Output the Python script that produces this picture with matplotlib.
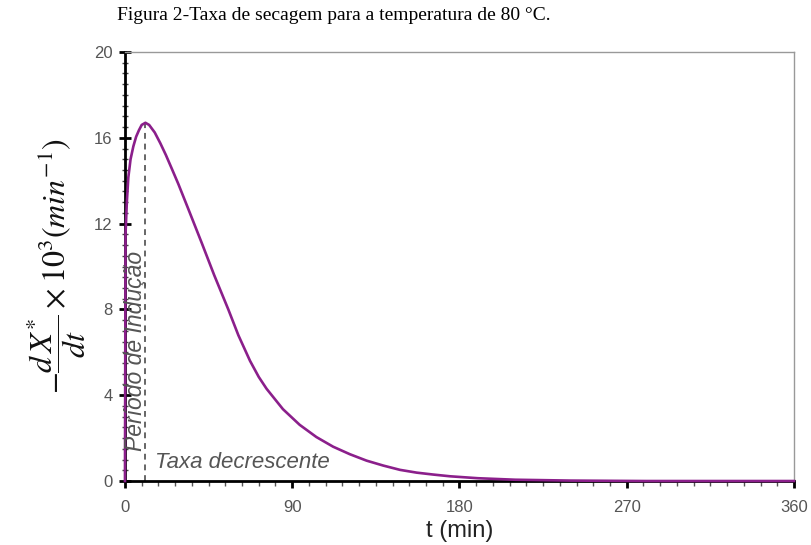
import matplotlib
matplotlib.use("Agg")
import matplotlib.pyplot as plt
from matplotlib.ticker import MultipleLocator
import numpy as np

# drying rate curve at 80 C
t_min = [0, 0.3, 1, 1.8, 3, 4.5, 6, 7.5, 9, 11, 13, 16, 19, 22, 25, 28.7, 34, 41.3, 48,
         55.6, 61, 67.3, 72, 76.2, 85, 94, 103, 112, 121, 130, 139, 148, 157, 166, 175,
         190, 210, 240, 280, 360]
rate = [0, 11.5, 13.0, 14.15, 15.0, 15.6, 16.05, 16.35, 16.6, 16.7, 16.6, 16.25, 15.75,
        15.2, 14.6, 13.85, 12.7, 11.1, 9.6, 8.0, 6.8, 5.6, 4.85, 4.3, 3.35, 2.62, 2.05, 1.6,
        1.25, 0.95, 0.72, 0.52, 0.39, 0.3, 0.22, 0.13, 0.06, 0.02, 0, 0]
t_peak = 11
rate_peak = 16.7
x_ticks = [0, 90, 180, 270, 360]
y_ticks = [0, 4, 8, 12, 16, 20]

plt.rcParams['mathtext.fontset'] = 'stix'
plt.rcParams['font.family'] = ['Liberation Sans', 'DejaVu Sans']

fig = plt.figure(figsize=(8.11, 5.45), dpi=100)
ax = fig.add_axes([0.1541, 0.1174, 0.979 - 0.1541, 0.9046 - 0.1174])

ax.plot(t_min, rate, color='#8B1F8B', lw=1.9, zorder=3, clip_on=False)
ax.plot([t_peak, t_peak], [0, rate_peak], color='#666666', lw=1.4, ls=(0, (3, 2.5)), zorder=2)

ax.set_xlim(0, 360)
ax.set_ylim(0, 20)
ax.set_xticks(x_ticks)
ax.set_yticks(y_ticks)
ax.xaxis.set_minor_locator(MultipleLocator(9))
ax.yaxis.set_minor_locator(MultipleLocator(0.5))

for side in ['left', 'bottom']:
    ax.spines[side].set_linewidth(2.0)
    ax.spines[side].set_color('black')
for side in ['top', 'right']:
    ax.spines[side].set_linewidth(1.0)
    ax.spines[side].set_color('#999999')

ax.tick_params(axis='x', which='major', direction='out', length=5, width=2, color='black',
               labelsize=12, labelcolor='#555555', pad=9)
ax.tick_params(axis='x', which='minor', direction='out', length=3.5, width=1, color='#555555')
ax.tick_params(axis='y', which='major', direction='inout', length=8, width=2, color='black',
               labelsize=12, labelcolor='#555555', pad=5)
ax.tick_params(axis='y', which='minor', direction='inout', length=5, width=1, color='#444444')

ax.set_xlabel('t (min)', fontsize=17, color='#222222', labelpad=3)
ax.set_ylabel(r'$-\dfrac{d\,X^{*}}{dt}\times10^{3}\left(min^{-1}\right)$',
              fontsize=23, color='#111111', labelpad=4)

ax.text(5.8, 1.4, 'Período de Indução', rotation=90, ha='center', va='bottom',
        fontsize=16.5, style='italic', color='#555555')
ax.text(16, 0.62, 'Taxa decrescente', ha='left', va='baseline',
        fontsize=16, style='italic', color='#555555')

fig.text(0.411, 0.971, 'Figura 2-Taxa de secagem para a temperatura de 80 °C.',
         ha='center', va='center', fontsize=14, family='Liberation Serif', color='black')

fig.savefig('out.png', dpi=100)
